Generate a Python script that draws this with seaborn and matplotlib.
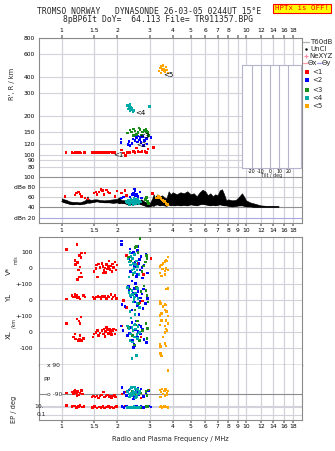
import numpy as np
import pandas as pd
import matplotlib
matplotlib.use("Agg")
import matplotlib.pyplot as plt
import seaborn as sns
from matplotlib.lines import Line2D
from matplotlib.ticker import NullLocator

# ---------------- data ----------------
freq_ticks = [1, 1.5, 2, 3, 4, 5, 6, 7, 8, 9, 10, 12, 14, 16, 18]
freq_labels = ['1', '1.5', '2', '3', '4', '5', '6', '7', '8', '9', '10', '12', '14', '16', '18']
height_ticks = [80, 90, 100, 120, 150, 200, 300, 400, 600, 800]
db_ticks = [20, 40, 60, 80, 100]
db_labels = ['dBn 20', '40', '60', 'dBe 80', '100']
echoes = ['<1', '<2', '<3', '<4', '<5']

# virtual height R' (km)
red_hf = [1.056, 1.14, 1.166, 1.18, 1.195, 1.21, 1.226, 1.257, 1.27, 1.33, 1.455, 1.47, 1.49, 1.515, 1.54, 1.56,
          1.59, 1.62, 1.65, 1.675, 1.70, 1.73, 1.76, 1.79, 1.83, 1.87, 1.90, 1.93,
          2.11, 2.16, 2.22, 2.28, 2.35, 2.45, 2.50, 2.54, 2.60, 2.66, 2.72, 2.83, 2.88, 2.93, 3.14]
red_hh = [104, 104, 103, 104, 104, 105, 104, 104, 103, 104, 104, 104, 103, 104, 104, 105, 104, 104, 104, 105,
          104, 104, 105, 104, 105, 104, 105, 104,
          108, 103, 98, 104, 104, 106, 104, 112, 106, 105, 106, 106, 104, 110, 113]
blue_hf = [2.09, 2.10, 2.29, 2.32, 2.40, 2.44, 2.50, 2.54, 2.60, 2.64, 2.70, 2.74, 2.78, 2.88, 2.90, 3.05, 2.35,
           2.58, 2.66, 2.82]
blue_hh = [132, 124, 120, 126, 122, 132, 128, 135, 139, 130, 124, 138, 118, 133, 121, 135, 118, 125, 136, 128]
green_hf = [2.28, 2.35, 2.39, 2.45, 2.50, 2.55, 2.60, 2.65, 2.71, 2.75, 2.86, 2.88, 2.92, 2.95, 2.45, 2.62, 2.80]
green_hh = [147, 155, 150, 158, 152, 143, 148, 156, 142, 150, 157, 151, 148, 141, 141, 160, 154]
cyan_hf = [2.28, 2.31, 2.33, 2.36, 2.38, 2.35, 2.40, 2.43, 2.30, 2.45, 2.99, 2.34, 2.39]
cyan_hh = [240, 236, 228, 232, 222, 218, 226, 214, 225, 219, 235, 245, 230]
orange_hf = [3.38, 3.41, 3.45, 3.50, 3.55, 3.59, 3.63, 3.68, 3.72, 3.77, 3.45, 3.60]
orange_hh = [445, 470, 480, 455, 488, 460, 440, 475, 452, 430, 428, 448]
label_f = [1.90, 2.53, 2.62, 2.50, 3.55]
label_h = [99, 118, 140, 208, 417]

# amplitude (dB)
trace_f = [1.00, 1.03, 1.06, 1.10, 1.15, 1.20, 1.25, 1.30, 1.35, 1.38, 1.40, 1.45, 1.50, 1.55, 1.60, 1.70, 1.80,
           1.90, 2.00, 2.05, 2.10, 2.20, 2.30, 2.40, 2.50, 2.60, 2.70, 2.80, 2.90, 3.00, 3.10, 3.15, 3.20, 3.30,
           3.40, 3.50, 3.60, 3.70, 3.80, 3.90, 4.00, 4.10, 4.20, 4.40, 4.60, 4.80, 5.00, 5.20, 5.40, 5.60, 5.80,
           6.00, 6.20, 6.40, 6.60, 6.80, 7.00, 7.20, 7.40, 7.60, 7.80, 8.00, 8.40, 8.80, 9.20, 9.50, 9.80, 10.0,
           10.5, 11.0, 11.5, 12.0, 13.0, 14.0, 15.0]
trace_lo = [52, 50, 49, 47, 46, 47, 46, 47, 48, 50, 49, 50, 51, 52, 51, 50, 50, 49, 50, 48, 49, 48, 46, 46, 46,
            47, 46, 44, 42, 42, 44, 43, 45, 46, 44, 45, 44, 43, 46, 44, 45, 44, 45, 44, 45, 44, 46, 45, 44, 46,
            47, 46, 45, 44, 45, 44, 45, 46, 45, 44, 44, 43, 42, 43, 44, 44, 43, 42, 42, 41, 41, 41, 41, 41, 41]
trace_hi = [58, 56, 55, 52, 51, 51, 50, 52, 55, 62, 56, 55, 56, 56, 55, 54, 55, 56, 57, 60, 55, 54, 52, 51, 52,
            54, 56, 52, 50, 48, 58, 66, 60, 66, 62, 64, 60, 58, 72, 66, 70, 68, 66, 70, 68, 72, 66, 68, 62, 70,
            75, 72, 64, 68, 62, 66, 64, 74, 76, 66, 54, 56, 54, 55, 62, 68, 60, 54, 50, 48, 46, 44, 43, 43, 42.5]
red_df = [1.04, 1.18, 1.20, 1.23, 1.26, 1.28, 1.34, 1.39, 1.50, 1.53, 1.55, 1.59, 1.63, 1.66, 1.70, 1.75, 1.78,
          1.82, 1.95, 1.99, 2.11, 2.20, 2.25, 3.10]
red_db = [62, 65, 69, 71, 67, 62, 59, 57, 69, 71, 66, 71, 75, 73, 66, 74, 71, 69, 62, 72, 69, 73, 64, 68]
blue_df = [2.11, 2.16, 2.35, 2.42, 2.45, 2.50, 2.55, 2.60, 2.66, 2.71, 2.48, 2.52]
blue_db = [59, 61, 61, 66, 69, 73, 67, 62, 71, 59, 76, 64]
green_df = [2.83, 2.89, 2.92, 2.95, 2.86]
green_db = [56, 60, 52, 48, 58]
cyan_df = [2.25, 2.28, 2.30, 2.32, 2.35, 2.38, 2.40, 2.42, 2.45, 2.48, 2.50, 2.52, 2.55, 2.58, 2.60, 2.63, 2.66,
           2.70, 2.33, 2.43, 2.53, 2.62, 2.37, 2.47, 2.57]
cyan_db = [52, 50, 54, 48, 53, 49, 55, 51, 47, 53, 50, 56, 49, 52, 55, 50, 53, 51, 46, 46, 47, 48, 57, 58, 57]
orange_df = [3.27, 3.34, 3.40, 3.46, 3.50, 3.55, 3.60, 3.63, 3.68, 3.71, 3.75]
orange_db = [59, 62, 60, 58, 55, 54, 52, 51, 49, 47, 46]

# V* (m/s)
red_vf = [1.06, 1.21, 1.25, 1.27, 1.28, 1.34, 1.18, 1.19, 1.22, 1.26, 1.23, 1.27, 1.25, 1.22, 1.28,
          1.50, 1.53, 1.54, 1.58, 1.56, 1.61, 1.65, 1.67, 1.70, 1.72, 1.75, 1.77, 1.79, 1.81, 1.83, 1.85, 1.87,
          1.89, 1.91, 1.95, 1.97, 1.99, 1.74, 1.69, 2.25, 2.60, 2.78, 3.05]
red_vv = [116, 150, 81, 66, 96, 96, 50, 25, 35, 8, -12, -29, -54, -71, -54,
          -19, -2, 19, 27, -54, 5, 31, 12, -15, 2, 23, -5, 10, 44, -8, 15, -20, 28, 5, 38, -10, 19, -25, -30,
          81, 30, -40, 60]
blue_vf = [2.11, 2.11, 2.30, 2.36, 2.42, 2.45, 2.50, 2.54, 2.58, 2.62, 2.66, 2.70, 2.74, 2.80, 2.86, 2.92, 2.40,
           2.48, 2.56, 2.64, 2.72, 2.34, 2.52, 2.60]
blue_vv = [171, 150, 60, -20, 95, 102, 40, -50, 110, 30, -10, 75, -60, 20, 90, -30, -80, 10, -35, 55, 5, 120,
           -95, 135]
green_vf = [2.66, 2.50, 2.55, 2.88, 2.90, 2.84, 2.30, 2.36, 2.60, 2.72, 2.44, 2.78]
green_vv = [185, 129, 135, 81, 60, 40, 70, 45, 100, -20, -40, 15]
cyan_vf = [2.29, 2.33, 2.36, 2.40, 2.44, 2.47, 2.50, 2.54, 2.58, 2.62, 2.38, 2.42, 2.48, 2.56, 2.31, 2.52, 2.35,
           2.45]
cyan_vv = [58, 40, 20, -12, 30, 0, -25, 45, 10, -40, 75, 60, 85, -10, -55, 25, 100, -30]
orange_vf = [3.77, 3.68, 3.63, 3.48, 3.41, 3.68, 3.53, 3.77, 3.63, 3.41, 3.63, 3.48, 3.55, 3.72]
orange_vv = [72, 52, 41, 21, 10, 0, -4, -11, -17, -31, -38, -48, 30, 45]

# YL (km)
red_yf = [1.06, 1.14, 1.16, 1.18, 1.19, 1.21, 1.22, 1.24, 1.26, 1.31, 1.34,
          1.48, 1.51, 1.54, 1.57, 1.60, 1.63, 1.66, 1.69, 1.72, 1.75, 1.78, 1.81, 1.85, 1.87, 1.90, 1.95, 1.98,
          2.16, 2.25, 2.60, 2.66, 2.75]
red_yv = [8, 30, 20, 40, 25, 30, 15, 22, 8, 30, 22,
          19, 12, 19, 26, 19, 12, 26, 19, 26, 12, 26, 19, 36, 8, 19, 30, 12,
          -2, -44, 8, -15, -5]
blue_yf = [2.12, 2.20, 2.32, 2.38, 2.44, 2.50, 2.55, 2.60, 2.66, 2.72, 2.78, 2.85, 2.92, 2.40, 2.48, 2.58, 2.68,
           2.76, 2.30, 2.62]
blue_yv = [-25, -40, 60, 20, 45, -10, 30, 55, -5, 40, 70, -20, 10, -60, 75, -35, 15, -50, 85, -90]
green_yf = [2.35, 2.45, 2.55, 2.62, 2.70, 2.86, 2.90, 2.94, 2.50, 2.80]
green_yv = [70, 40, 80, -20, 55, 60, 30, -10, -60, 90]
cyan_yf = [2.28, 2.32, 2.36, 2.40, 2.44, 2.48, 2.52, 2.56, 2.60, 2.64, 2.34, 2.42, 2.50, 2.58, 2.38, 2.46]
cyan_yv = [80, 50, 30, 60, -10, 20, 45, -20, 10, -45, -70, 35, -90, 75, -110, 5]
orange_yf = [3.68, 3.77, 3.41, 3.44, 3.63, 3.68, 3.48, 3.63, 3.70, 3.77, 3.41, 3.55]
orange_yv = [69, 73, -6, -21, -25, -31, -83, -62, -70, -98, -95, -40]

# XL (km)
red_xf = [1.06, 1.21, 1.24, 1.26, 1.27, 1.18, 1.16, 1.19, 1.23, 1.25, 1.28, 1.31, 1.26,
          1.48, 1.50, 1.53, 1.56, 1.58, 1.61, 1.65, 1.68, 1.70, 1.72, 1.73, 1.75, 1.77, 1.79, 1.82, 1.84, 1.86,
          1.89, 1.91, 1.95, 1.97, 2.12, 2.40, 2.70]
red_xv = [56, 83, 70, 56, 94, -10, -31, -42, -52, -45, -52, -38, -20,
          -31, -10, 0, 10, -20, -5, 10, -10, 21, -27, 5, 31, 15, -8, 20, 5, -15, 10, 20, -10, 15,
          40, -60, -30]
blue_xf = [2.10, 2.15, 2.28, 2.35, 2.42, 2.47, 2.52, 2.57, 2.62, 2.68, 2.74, 2.80, 2.88, 2.40, 2.50, 2.60, 2.70,
           2.45, 2.55, 2.33]
blue_xv = [40, 10, -20, 30, -50, -75, 15, -30, 45, -10, 20, -45, -65, 60, -85, 5, 35, -95, 70, -5]
green_xf = [2.30, 2.42, 2.52, 2.64, 2.74, 2.86, 2.92, 2.48, 2.58, 2.90]
green_xv = [30, -20, 45, -50, 10, 55, 25, -80, 70, -40]
cyan_xf = [2.28, 2.32, 2.36, 2.40, 2.44, 2.48, 2.52, 2.56, 2.60, 2.64, 2.34, 2.42, 2.50, 2.58, 2.40, 2.54, 2.46]
cyan_xv = [40, 25, -10, 30, 10, -30, 20, -15, 35, 0, -50, -60, 50, -40, -165, -145, 45]
orange_xf = [3.48, 3.68, 3.77, 3.41, 3.63, 3.68, 3.63, 3.41, 3.63, 3.68, 3.44, 3.44, 3.48, 3.72, 3.55]
orange_xv = [75, 75, 54, 46, 40, 19, -2, -77, -71, -85, -90, -133, -148, 10, -30]

# PP (deg)
red_pf = [1.06, 1.14, 1.16, 1.18, 1.20, 1.22, 1.24, 1.26, 1.28, 1.30, 1.21, 1.17,
          1.46, 1.49, 1.52, 1.55, 1.58, 1.61, 1.64, 1.68, 1.71, 1.74, 1.77, 1.80, 1.83, 1.86, 1.89, 1.93, 1.96,
          2.12, 2.20, 2.25, 2.70, 2.95]
red_pv = [-84, -78, -90, -67, -84, -73, -96, -84, -67, -90, -98, -73,
          -109, -103, -109, -103, -115, -103, -96, -78, -109, -103, -96, -109, -103, -115, -103, -96, -109,
          -90, -78, -96, -115, -67]
blue_pf = [2.12, 2.18, 2.25, 2.32, 2.40, 2.48, 2.55, 2.62, 2.70, 2.78, 2.86, 2.95, 2.45, 2.60]
blue_pv = [-50, -80, -100, -65, -90, -110, -75, -95, -60, -105, -85, -70, -120, -55]
green_pf = [2.40, 2.50, 2.60, 2.70, 2.86, 2.90, 2.93, 2.55]
green_pv = [-70, -95, -60, -85, -75, -100, -65, -110]
cyan_pf = [2.28, 2.31, 2.34, 2.37, 2.40, 2.43, 2.46, 2.49, 2.52, 2.55, 2.58, 2.61, 2.64, 2.33, 2.39, 2.45, 2.51,
           2.57, 2.36, 2.48]
cyan_pv = [-75, -90, -60, -85, -100, -70, -95, -55, -80, -105, -65, -90, -75, -110, -50, -85, -115, -60, -95, -45]
orange_pf = [3.41, 3.45, 3.50, 3.55, 3.60, 3.66, 3.72, 3.77, 3.44, 3.63, 3.70, 3.77]
orange_pv = [-65, -78, -60, -90, -72, -62, -84, -70, -109, -103, -96, 55]

# EP (deg)
red_ef = [1.06, 1.14, 1.17, 1.20, 1.23, 1.26, 1.29, 1.32,
          1.47, 1.51, 1.55, 1.59, 1.63, 1.67, 1.71, 1.75, 1.79, 1.83, 1.87, 1.91, 1.95, 1.98, 2.20, 2.30]
red_ev = [25, 12, 20, 8, 15, 22, 10, 14, 8, 12, 6, 10, 8, 14, 6, 9, 12, 7, 10, 6, 9, 12, 20, 8]
blue_ef = [2.12, 2.18, 2.25, 2.32, 2.40, 2.48, 2.55, 2.62, 2.70, 2.78, 2.86, 2.95, 3.05]
blue_ev = [15, 8, 20, 10, 6, 12, 18, 9, 14, 7, 11, 16, 10]
green_ef = [2.86, 2.90, 2.93, 2.50, 2.70]
green_ev = [12, 9, 14, 10, 8]
cyan_ef = [2.28, 2.30, 2.32, 2.34, 2.36, 2.38, 2.40, 2.42, 2.44, 2.46, 2.48, 2.50, 2.52, 2.54, 2.56, 2.58, 2.60,
           2.62, 2.64, 2.66]
cyan_ev = [8, 10, 7, 9, 11, 8, 10, 7, 9, 12, 8, 10, 7, 9, 11, 8, 10, 8, 9, 10]
orange_ef = [3.41, 3.45, 3.50, 3.55, 3.60, 3.66, 3.72, 3.77]
orange_ev = [9, 12, 8, 10, 14, 9, 11, 8]

# ---------------- style ----------------
sns.set_theme(style="white")
plt.rcParams['font.family'] = ['DejaVu Sans']
plt.rcParams['axes.linewidth'] = 0.8

palette = {'<1': '#ff0000', '<2': '#0000ff', '<3': '#1a8c1a', '<4': '#00a8a8', '<5': '#ffa500'}
GRID = '#d2d2da'
FRAME = '#8a8a8a'
FMIN, FMAX = 0.753, 20.1
TS = 4.3

W, H = 335, 451
fig = plt.figure(figsize=(W / 100, H / 100), dpi=100)
fig.patch.set_facecolor('white')


def rect(x0, y0, x1, y1):
    return [x0 / W, 1 - y1 / H, (x1 - x0) / W, (y1 - y0) / H]


def make_df(groups):
    rows = []
    for echo, (fs, vs) in zip(echoes, groups):
        for f, v in zip(fs, vs):
            rows.append((f, v, echo))
    return pd.DataFrame(rows, columns=['f', 'v', 'echo'])


def freq_axis(ax):
    ax.set_xscale('log')
    ax.set_xlim(FMIN, FMAX)
    ax.set_xticks(freq_ticks)
    ax.set_xticklabels(freq_labels)
    ax.xaxis.set_minor_locator(NullLocator())
    for f in freq_ticks:
        ax.axvline(f, color=GRID, lw=0.9, zorder=0)
    for s in ax.spines.values():
        s.set_color(FRAME)
        s.set_linewidth(0.8)
    ax.tick_params(axis='x', length=0, labelbottom=False, labelsize=TS, colors='black')
    ax.tick_params(axis='y', length=0, labelsize=TS, colors='black', pad=2.8)


def scatter(ax, df, y='v'):
    sns.scatterplot(data=df, x='f', y=y, hue='echo', palette=palette, hue_order=echoes, marker='s',
                    s=3.2, linewidth=0, legend=False, ax=ax, zorder=3)
    ax.set_xlabel('')
    ax.set_ylabel('')


# ---------- height panel ----------
ax_h = fig.add_axes(rect(39, 38, 302, 170))
freq_axis(ax_h)
ax_h.set_yscale('log')
ax_h.set_ylim(75.9, 786)
ax_h.yaxis.set_minor_locator(NullLocator())
ax_h.set_yticks(height_ticks)
ax_h.set_yticklabels([str(t) for t in height_ticks])
for t in height_ticks:
    ax_h.axhline(t, color=GRID, lw=0.8, zorder=0)
ax_h.spines['bottom'].set_visible(False)
ax_h.tick_params(axis='x', top=True, labeltop=True, bottom=False, length=2, pad=1.6,
                 color=FRAME, labelsize=TS)
ax_h.set_xticklabels(['' if l == '9' else l for l in freq_labels])
df_h = make_df([(red_hf, red_hh), (blue_hf, blue_hh), (green_hf, green_hh), (cyan_hf, cyan_hh),
                (orange_hf, orange_hh)])
scatter(ax_h, df_h)
ax_h.set_xlim(FMIN, FMAX)
for lab, f, h in zip(echoes, label_f, label_h):
    ax_h.text(f, h, lab, fontsize=5, color='black', ha='left', va='center', zorder=5)

# ---------- dB panel ----------
ax_db = fig.add_axes(rect(39, 170, 302, 222.5))
freq_axis(ax_db)
ax_db.set_ylim(10.2, 114)
ax_db.set_yticks(db_ticks)
ax_db.set_yticklabels(db_labels)
for t, c in zip(db_ticks, ['#a8a8e0', '#909090', '#d0d0d0', '#d0d0d0', '#909090']):
    ax_db.axhline(t, color=c, lw=0.8, zorder=0)
ax_db.spines['top'].set_visible(False)
ax_db.tick_params(axis='x', bottom=True, labelbottom=True, length=2, pad=2.2, color=FRAME, labelsize=TS)
ax_db.fill_between(trace_f, trace_lo, trace_hi, color='black', lw=0.4, zorder=2)
ax_db.plot(trace_f, trace_lo, color='black', lw=0.6, zorder=2)
df_db = make_df([(red_df, red_db), (blue_df, blue_db), (green_df, green_db), (cyan_df, cyan_db),
                 (orange_df, orange_db)])
scatter(ax_db, df_db)
ax_db.set_xlim(FMIN, FMAX)

# ---------- V*, YL, XL panel ----------
ax_v = fig.add_axes(rect(39, 237, 302, 365))
freq_axis(ax_v)
ax_v.set_ylim(-204.4, 595.6)
v_ticks = [500, 400, 300, 200, 100, 0, -100]
ax_v.set_yticks(v_ticks)
ax_v.set_yticklabels(['100', '0', '+-100', '0', '+-100', '0', '-100'])
ax_v.tick_params(axis='y', pad=4.5)
for lbl in ax_v.get_yticklabels():
    if lbl.get_text() == '+-100':
        lbl.set_fontsize(3.9)
for t in v_ticks:
    ax_v.axhline(t, color=GRID, lw=0.8, zorder=0)
ax_v.spines['bottom'].set_color('#707070')
ax_v.spines['bottom'].set_linewidth(1.0)
sections = []
for off, groups in [(400, [(red_vf, red_vv), (blue_vf, blue_vv), (green_vf, green_vv), (cyan_vf, cyan_vv),
                           (orange_vf, orange_vv)]),
                    (200, [(red_yf, red_yv), (blue_yf, blue_yv), (green_yf, green_yv), (cyan_yf, cyan_yv),
                           (orange_yf, orange_yv)]),
                    (0, [(red_xf, red_xv), (blue_xf, blue_xv), (green_xf, green_xv), (cyan_xf, cyan_xv),
                         (orange_xf, orange_xv)])]:
    d = make_df(groups)
    d['y'] = d['v'] + off
    sections.append(d)
df_v = pd.concat(sections, ignore_index=True)
scatter(ax_v, df_v, y='y')
ax_v.set_xlim(FMIN, FMAX)
ax_v.set_ylim(-204.4, 595.6)

# ---------- PP panel ----------
ax_pp = fig.add_axes(rect(39, 365, 302, 401))
freq_axis(ax_pp)
ax_pp.set_ylim(-133.4, 90)
ax_pp.set_yticks([])
ax_pp.spines['top'].set_visible(False)
ax_pp.spines['bottom'].set_visible(False)
ax_pp.axhline(-90, color='#8a8a8a', lw=0.8, zorder=1)
df_pp = make_df([(red_pf, red_pv), (blue_pf, blue_pv), (green_pf, green_pv), (cyan_pf, cyan_pv),
                 (orange_pf, orange_pv)])
scatter(ax_pp, df_pp)
ax_pp.set_xlim(FMIN, FMAX)
ax_pp.set_ylim(-133.4, 90)
tr = ax_pp.get_yaxis_transform()
ax_pp.text(0.03, 88, 'x 90', transform=tr, fontsize=TS, ha='left', va='center', zorder=6)
ax_pp.text(0.015, 3, 'PP', transform=tr, fontsize=TS, ha='left', va='center', zorder=6)
ax_pp.text(0.03, -90, 'o -90', transform=tr, fontsize=TS, ha='left', va='center', zorder=6,
           bbox=dict(facecolor='white', edgecolor='none', pad=0.2))

# ---------- EP panel ----------
ax_el = fig.add_axes(rect(39, 401, 302, 419.5))
freq_axis(ax_el)
ax_el.set_yscale('log')
ax_el.set_ylim(0.0075, 316)
ax_el.yaxis.set_minor_locator(NullLocator())
ax_el.set_yticks([])
ax_el.spines['top'].set_visible(False)
for t in [20, 10, 0.1]:
    ax_el.axhline(t, color=GRID, lw=0.8, zorder=0)
ax_el.tick_params(axis='x', bottom=True, labelbottom=True, length=2, pad=1.6, color=FRAME, labelsize=TS)
df_el = make_df([(red_ef, red_ev), (blue_ef, blue_ev), (green_ef, green_ev), (cyan_ef, cyan_ev),
                 (orange_ef, orange_ev)])
scatter(ax_el, df_el)
ax_el.set_xlim(FMIN, FMAX)
ax_el.set_ylim(0.0075, 316)
tre = ax_el.get_yaxis_transform()
ax_el.text(0.0, 10, '10.', transform=tre, fontsize=TS, ha='center', va='center', zorder=6)
ax_el.text(0.01, 0.1, '0.1', transform=tre, fontsize=TS, ha='center', va='center', zorder=6)
ax_el.set_xlabel('Radio and Plasma Frequency / MHz', fontsize=4.8, labelpad=4.5)

# ---------- tilt inset ----------
ax_t = fig.add_axes(rect(242, 65, 300.7, 168))
ax_t.set_xlim(-30.3, 33.2)
ax_t.set_ylim(0, 1)
ax_t.set_yticks([])
ax_t.set_xticks([-20, -10, 0, 10, 20])
ax_t.set_xticklabels(['-20', '-10', '0', '10', '20'])
for t in [-20, -10, 0, 10, 20]:
    ax_t.axvline(t, color='#b4b4cc', lw=0.8)
for s in ax_t.spines.values():
    s.set_color('#b4b4cc')
    s.set_linewidth(0.8)
ax_t.tick_params(axis='x', length=0, pad=0.4, labelsize=3.4, colors='black')
ax_t.set_xlabel('Tilt / deg', fontsize=3.4, labelpad=-0.5)
ax_t.set_facecolor('white')

# ---------- titles ----------
mono = 'DejaVu Sans Mono'
fig.text(149 / W, 1 - 12 / H, 'TROMSO NORWAY   DYNASONDE 26-03-05 0244UT 15°E', family=mono, fontsize=5.8,
         ha='center', va='center')
fig.text(158 / W, 1 - 19.7 / H, '8pBP6It DoY=  64.113 File= TR911357.BPG', family=mono, fontsize=5.8,
         ha='center', va='center')
fig.text(302 / W, 1 - 8.5 / H, 'HPTx is OFF!', family=mono, fontsize=5.3, color='#ff0000', ha='center',
         va='center', bbox=dict(boxstyle='square,pad=0.25', facecolor='#ffff00', edgecolor='#ff0000', lw=0.8))

# ---------- axis labels ----------
fig.text(12.5 / W, 1 - 84 / H, "R', R / km", rotation=90, fontsize=4.8, ha='center', va='center')
fig.text(9 / W, 1 - 271 / H, 'V*', rotation=90, fontsize=5, ha='center', va='center')
fig.text(16 / W, 1 - 260 / H, 'm/s', rotation=90, fontsize=3.4, ha='center', va='center')
fig.text(9 / W, 1 - 298 / H, 'YL', rotation=90, fontsize=5, ha='center', va='center')
fig.text(13.5 / W, 1 - 324 / H, '/km', rotation=90, fontsize=3.4, ha='center', va='center')
fig.text(9 / W, 1 - 335 / H, 'XL', rotation=90, fontsize=5, ha='center', va='center')
fig.text(14 / W, 1 - 409 / H, 'EP / deg', rotation=90, fontsize=4.8, ha='center', va='center')

# ---------- legend ----------
LS = 5
def fx(x):
    return x / W
def fy(y):
    return 1 - y / H
fig.add_artist(Line2D([fx(303), fx(309)], [fy(42), fy(42)], color='#b0b0b0', lw=0.9))
fig.text(fx(310), fy(42), 'T60dB', fontsize=LS, ha='left', va='center')
fig.add_artist(Line2D([fx(306)], [fy(49)], marker='.', markersize=1.5, color='black', lw=0))
fig.text(fx(310), fy(49), 'UnCl', fontsize=LS, ha='left', va='center')
fig.add_artist(Line2D([fx(306)], [fy(56)], marker='+', markersize=3.5, color='#ff8fa0', lw=0, mew=0.8))
fig.text(fx(309), fy(56), 'NeXYZ', fontsize=LS, ha='left', va='center')
fig.add_artist(Line2D([fx(303), fx(307.5)], [fy(63), fy(63)], color='#ff9aa8', lw=0.9))
fig.text(fx(308), fy(63), 'Θx', fontsize=LS, ha='left', va='center')
fig.add_artist(Line2D([fx(317), fx(321.5)], [fy(63), fy(63)], color='#9a9ae6', lw=0.9))
fig.text(fx(322), fy(63), 'Θy', fontsize=LS, ha='left', va='center')
for lab, yy in zip(echoes, [72.3, 80.3, 89.7, 97.7, 106.3]):
    fig.add_artist(Line2D([fx(307)], [fy(yy)], marker='s', markersize=2.2, color=palette[lab], lw=0, mew=0))
    fig.text(fx(312), fy(yy), lab, fontsize=LS, ha='left', va='center')

fig.savefig('out.png', dpi=100, facecolor='white')
